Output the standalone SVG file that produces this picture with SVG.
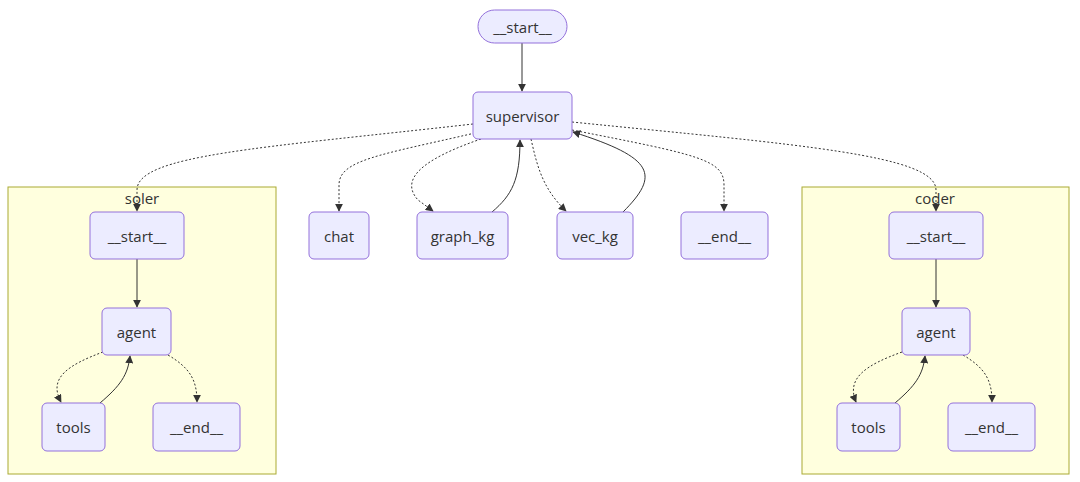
<svg xmlns="http://www.w3.org/2000/svg" width="1080" height="482" viewBox="0 0 1080 482">
<style>
.node rect{fill:#ECECFF;stroke:#9370DB;stroke-width:1}
.cluster rect{fill:#FFFFDE;stroke:#AAAA33;stroke-width:1}
text{font-family:"Open Sans","Noto Sans","DejaVu Sans",sans-serif;font-size:15px;fill:#333;text-anchor:middle;dominant-baseline:central}
.edge{fill:none;stroke:#333;stroke-width:1;marker-end:url(#arrow)}
.dot{stroke-dasharray:2,2}
</style>
<defs>
<marker id="arrow" viewBox="0 0 10 10" refX="9" refY="5" markerWidth="8" markerHeight="8" orient="auto">
<path d="M0,0 L10,5 L0,10 z" fill="#333"/>
</marker>
</defs>
<rect width="1080" height="482" fill="#fff"/>
<g id="cluster-soler" class="cluster"><rect x="8" y="187" width="268" height="287"/><text x="142" y="198">soler</text></g>
<g id="cluster-coder" class="cluster"><rect x="802" y="187" width="267" height="287"/><text x="935" y="198">coder</text></g>

<g id="connectors">
<path class="edge" d="M522,43 L522,91"/>
<path class="edge dot" d="M473,124 C260,148 137,155 137,190 L137,211"/>
<path class="edge dot" d="M475,133 C380,155 339,160 339,185 L339,211"/>
<path class="edge dot" d="M481,139 C420,160 400,180 418,200 L433,211"/>
<path class="edge" d="M492,212 C512,195 520,180 520,140"/>
<path class="edge dot" d="M531,139 C537,165 542,188 566,211"/>
<path class="edge" d="M623,212 C660,175 655,158 573,132"/>
<path class="edge dot" d="M572,130 C700,155 724,160 724,185 L724,211"/>
<path class="edge dot" d="M572,122 C800,145 936,155 936,190 L936,211"/>
<path class="edge" d="M137,259 L137,307"/>
<path class="edge dot" d="M103,352 C68,365 48,378 61,402"/>
<path class="edge" d="M100,403 C120,386 128,375 130,356"/>
<path class="edge dot" d="M168,355 C190,368 197,380 197,402"/>
<path class="edge" d="M936,259 L936,307"/>
<path class="edge dot" d="M902,352 C866,365 846,378 856,402"/>
<path class="edge" d="M895,403 C915,386 923,375 925,356"/>
<path class="edge dot" d="M963,355 C985,368 992,380 992,402"/>
</g>

<g id="start" class="node"><rect x="478" y="10" width="89" height="33" rx="16.5"/><text x="522.5" y="26.5">__start__</text></g>
<g id="supervisor" class="node"><rect x="473" y="92" width="99" height="47" rx="5"/><text x="522.5" y="115.5">supervisor</text></g>
<g id="chat" class="node"><rect x="309" y="212" width="60" height="47" rx="5"/><text x="339" y="235.5">chat</text></g>
<g id="graph_kg" class="node"><rect x="417" y="212" width="91" height="47" rx="5"/><text x="462.5" y="235.5">graph_kg</text></g>
<g id="vec_kg" class="node"><rect x="557" y="212" width="76" height="47" rx="5"/><text x="595" y="235.5">vec_kg</text></g>
<g id="end" class="node"><rect x="681" y="212" width="87" height="47" rx="5"/><text x="724.5" y="235.5">__end__</text></g>

<g id="soler-start" class="node"><rect x="90" y="212" width="94" height="47" rx="5"/><text x="137" y="235.5">__start__</text></g>
<g id="soler-agent" class="node"><rect x="102" y="308" width="69" height="47" rx="5"/><text x="136.5" y="331.5">agent</text></g>
<g id="soler-tools" class="node"><rect x="42" y="403" width="63" height="48" rx="5"/><text x="73.5" y="427">tools</text></g>
<g id="soler-end" class="node"><rect x="153" y="403" width="87" height="48" rx="5"/><text x="196.5" y="427">__end__</text></g>

<g id="coder-start" class="node"><rect x="889" y="212" width="94" height="47" rx="5"/><text x="936" y="235.5">__start__</text></g>
<g id="coder-agent" class="node"><rect x="902" y="308" width="68" height="47" rx="5"/><text x="936" y="331.5">agent</text></g>
<g id="coder-tools" class="node"><rect x="837" y="403" width="63" height="48" rx="5"/><text x="868.5" y="427">tools</text></g>
<g id="coder-end" class="node"><rect x="948" y="403" width="87" height="48" rx="5"/><text x="991.5" y="427">__end__</text></g>
</svg>
